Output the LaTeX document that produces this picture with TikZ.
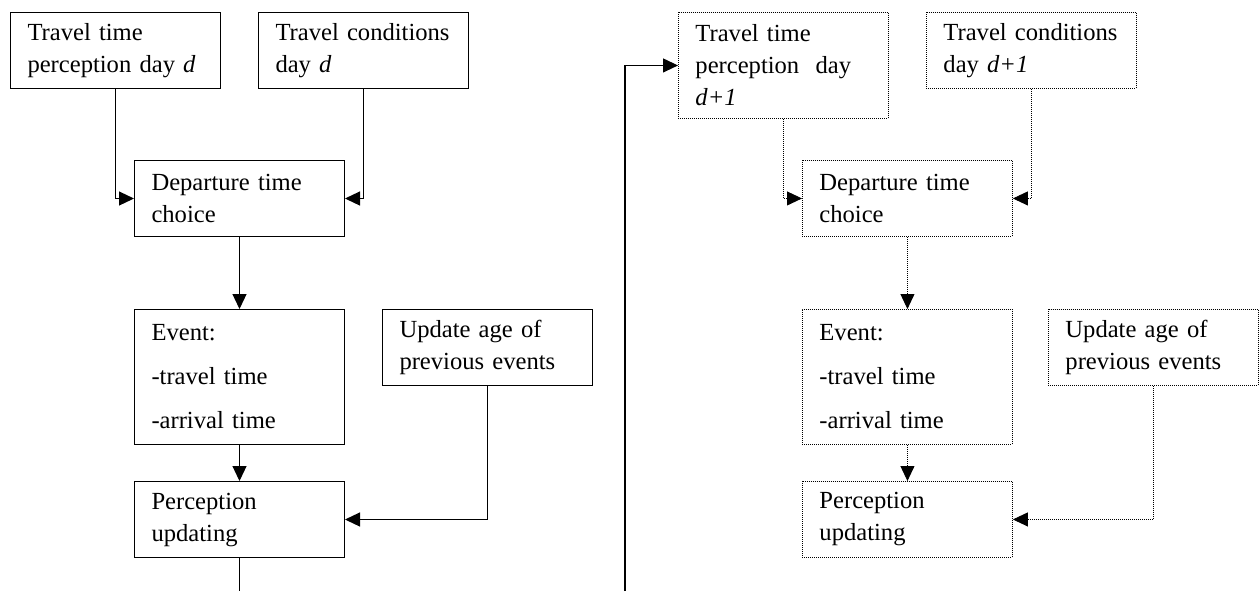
\documentclass[tikz,border=0pt]{standalone}
\usepackage{fontspec}
\setmainfont{Liberation Serif}
\usetikzlibrary{arrows.meta}

\begin{document}
\begin{tikzpicture}[x=0.5pt, y=-0.5pt,
      every node/.style = {shape=rectangle, draw, line width=0.5pt,
        align=left, anchor=north west,
        inner xsep=8.5pt, text width=88pt, minimum height=38pt,
        font=\fontsize{12.3}{16}\selectfont},
      nextday/.style = {dash pattern=on 0.5pt off 0.5pt, line width=0.45pt},
      link/.style = {-{Triangle[length=7.5pt,width=7pt]}, line width=0.6pt}]
  \useasboundingbox (0,0) rectangle (1259,591);
  % day d
  \node (perc) at (10,12) {Travel time\\ perception day \textit{d}};
  \node (cond) at (258,12) {Travel conditions\\ day \textit{d}};
  \node (dep) at (134,160) {Departure time\\ choice};
  \node[minimum height=67.5pt] (event) at (134,309)
    {Event:\\[6pt] -travel time\\[6pt] -arrival time};
  \node (age) at (382,309) {Update age of\\ previous events};
  \node (upd) at (134,481) {Perception\\ updating};
  \coordinate (leftend) at (upd.south |- 0,591);
  \draw[link] (perc) |- (dep);
  \draw[link] (cond) |- (dep);
  \draw[link] (dep) -- (event);
  \draw[link] (event) -- (upd);
  \draw[link] (age) |- (upd);
  \draw[line width=0.6pt] (upd.south) -- (leftend);
  % day d+1
  \node[nextday, minimum height=53pt] (perc2) at (678,12)
    {Travel time\\ perception~~day\\ \textit{d+1}};
  \node[nextday] (cond2) at (926,12) {Travel conditions\\ day \textit{d+1}};
  \node[nextday] (dep2) at (802,160) {Departure time\\ choice};
  \node[nextday, minimum height=67.5pt] (event2) at (802,309)
    {Event:\\[6pt] -travel time\\[6pt] -arrival time};
  \node[nextday] (age2) at (1048,309) {Update age of\\ previous events};
  \node[nextday] (upd2) at (802,481) {Perception\\ updating};
  \draw[link, nextday] (perc2) |- (dep2);
  \draw[link, nextday] (cond2) |- (dep2);
  \draw[link, nextday] (dep2) -- (event2);
  \draw[link, nextday] (event2) -- (upd2);
  \draw[link, nextday] (age2) |- (upd2);
  % feedback
  \coordinate (back) at (625,591);
  \draw[link] (back) |- (perc2);
\end{tikzpicture}
\end{document}
